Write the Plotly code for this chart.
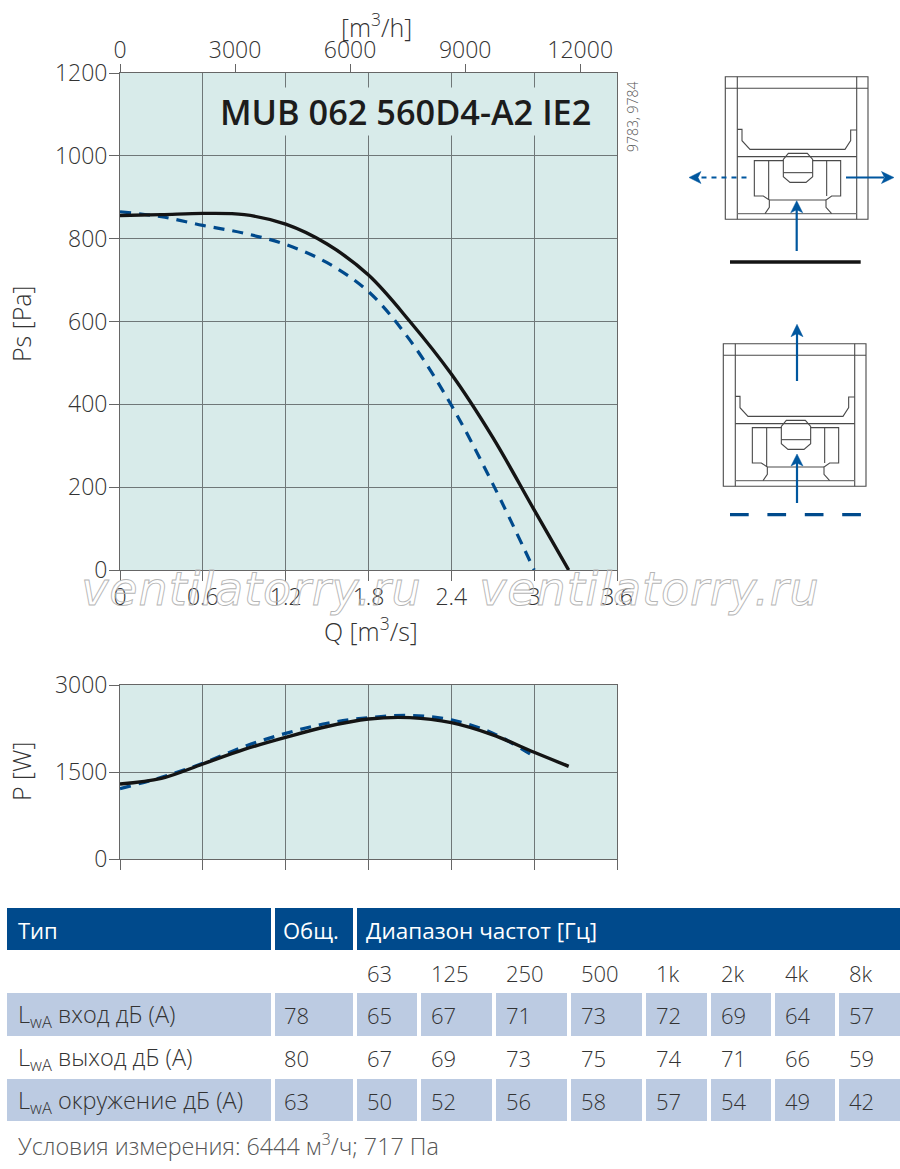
import plotly.graph_objects as go

W, H = 900, 1169
FONT = "Open Sans"

# curves
q_ps_solid = [0, 0.3, 0.6, 0.9, 1.2, 1.5, 1.8, 2.1, 2.4, 2.7, 3.0, 3.25]
ps_solid = [856, 858, 861, 858, 835, 787, 712, 600, 473, 320, 145, 0]
q_ps_dash = [0, 0.3, 0.6, 0.9, 1.2, 1.5, 1.8, 2.1, 2.4, 2.7, 3.0]
ps_dash = [865, 853, 832, 813, 786, 742, 672, 555, 398, 208, 0]

q_p_solid = [0, 0.3, 0.6, 0.9, 1.2, 1.5, 1.8, 2.1, 2.4, 2.7, 3.0, 3.25]
p_solid = [1293, 1390, 1638, 1890, 2098, 2285, 2414, 2437, 2350, 2140, 1840, 1598]
q_p_dash = [0, 0.3, 0.6, 0.9, 1.2, 1.5, 1.8, 2.1, 2.4, 2.7, 3.0]
p_dash = [1212, 1408, 1650, 1940, 2166, 2340, 2437, 2475, 2400, 2170, 1765]

# axes
q_ticks = [0, 0.6, 1.2, 1.8, 2.4, 3, 3.6]
flow_ticks = [0, 3000, 6000, 9000, 12000]
ps_ticks = [0, 200, 400, 600, 800, 1000, 1200]
p_ticks = [0, 1500, 3000]

# table
freq_labels = ["63", "125", "250", "500", "1k", "2k", "4k", "8k"]
row_names = ["L<sub>wA</sub> вход дБ (A)", "L<sub>wA</sub> выход дБ (A)", "L<sub>wA</sub> окружение дБ (A)"]
row_total = [78, 80, 63]
row_inlet = [65, 67, 71, 73, 72, 69, 64, 57]
row_outlet = [67, 69, 73, 75, 74, 71, 66, 59]
row_around = [50, 52, 56, 58, 57, 54, 49, 42]

col_edges = [(357, 417), (421, 492), (496, 567), (571, 642), (646, 707), (711, 771), (775, 835), (839, 900)]
band_rows = [(993, 1036), (1079, 1121)]


def fx(x):
    return x / W


def fy(y):
    return 1 - y / H


fig = go.Figure()

solid = dict(color="#141414", width=3.4, shape="spline", smoothing=1)
dashed = dict(color="#004a8c", width=3.2, dash="11px,8px", shape="spline", smoothing=1)

fig.add_trace(go.Scatter(x=q_ps_dash, y=ps_dash, mode="lines", line=dashed, xaxis="x", yaxis="y"))
fig.add_trace(go.Scatter(x=q_ps_solid, y=ps_solid, mode="lines", line=solid, xaxis="x", yaxis="y"))
fig.add_trace(go.Scatter(x=q_p_dash, y=p_dash, mode="lines", line=dashed, xaxis="x3", yaxis="y3"))
fig.add_trace(go.Scatter(x=q_p_solid, y=p_solid, mode="lines", line=solid, xaxis="x3", yaxis="y3"))
# keeps the top m3/h axis alive
fig.add_trace(go.Scatter(x=[q * 3600 for q in q_ps_solid], y=ps_solid, mode="lines", opacity=0,
                         hoverinfo="skip", xaxis="x2", yaxis="y"))

tick_font = dict(family=FONT, size=23, color="#333333", weight=300)
axis_base = dict(showline=True, linecolor="#666666", linewidth=1, mirror=True, ticks="outside",
                 tickcolor="#666666", tickwidth=1, tickfont=tick_font, zeroline=False,
                 gridcolor="#6f7778", gridwidth=1, showgrid=True, fixedrange=True)

fig.update_layout(
    width=W, height=H, margin=dict(l=0, r=0, t=0, b=0, autoexpand=False), showlegend=False,
    paper_bgcolor="white", plot_bgcolor="#d8ebea",
    xaxis=dict(axis_base, domain=[fx(120), fx(617)], range=[0, 3.6], tickmode="array", tickvals=q_ticks,
               ticktext=[str(t) for t in q_ticks], ticklen=10, ticklabelstandoff=-4, anchor="y"),
    yaxis=dict(axis_base, domain=[fy(570), fy(73)], range=[0, 1200], tickmode="array", tickvals=ps_ticks,
               ticklen=10, ticklabelstandoff=-3, anchor="x"),
    xaxis2=dict(axis_base, domain=[fx(120), fx(617)], range=[0, 12960], tickmode="array", tickvals=flow_ticks,
                ticktext=[str(t) for t in flow_ticks], ticklen=8, ticklabelstandoff=-3, side="top",
                overlaying="x", anchor="y", showgrid=False, mirror=False),
    xaxis3=dict(axis_base, domain=[fx(120), fx(617)], range=[0, 3.6], tickmode="array", tickvals=q_ticks,
                ticklen=10, showticklabels=False, anchor="y3"),
    yaxis3=dict(axis_base, domain=[fy(859), fy(685)], range=[0, 3000], tickmode="array", tickvals=p_ticks,
                ticklen=10, ticklabelstandoff=-3, anchor="x3"),
)


def label(text, x, y, size=22, color="#333333", anchor="left", weight=300, angle=0, family=FONT, style="normal", **kw):
    fig.add_annotation(text=text, x=fx(x), y=fy(y), xref="paper", yref="paper", showarrow=False,
                       xanchor=anchor, yanchor="middle", textangle=angle,
                       font=dict(family=family, size=size, color=color, weight=weight, style=style), **kw)


def rect(x0, y0, x1, y1, color):
    fig.add_shape(type="rect", xref="paper", yref="paper", x0=fx(x0), x1=fx(x1), y0=fy(y0), y1=fy(y1),
                  fillcolor=color, line_width=0, layer="below")


def path(points, color="#4a4a4a", width=1.1, close=False, fill=None, dash=None):
    d = "M" + " L".join(f"{fx(x):.5f},{fy(y):.5f}" for x, y in points) + (" Z" if close else "")
    fig.add_shape(type="path", xref="paper", yref="paper", path=d, fillcolor=fill,
                  line=dict(color=color, width=width, dash=dash))


# chart texts
label("MUB 062 560D4-A2 IE2", 405, 111, size=34.3, color="#1c1c1c", anchor="center", weight=600,
      bgcolor="#d8ebea", borderpad=0)
label("[m<sup>3</sup>/h]", 376, 25, size=25, anchor="center")
label("Q [m<sup>3</sup>/s]", 371, 629, size=25, anchor="center")
label("Ps [Pa]", 21, 324, size=25, anchor="center", angle=-90)
label("P [W]", 21, 772, size=25, anchor="center", angle=-90)
label("9783, 9784", 633, 117, size=14, color="#555555", anchor="center", angle=-90)

# watermark, outlined by the script at the bottom
label("ventilatorry.ru", 251, 589, size=46, color="#b5b5b5", anchor="center", weight=400,
      family="DejaVu Sans", style="italic")
label("ventilatorry.ru", 649, 589, size=46, color="#b5b5b5", anchor="center", weight=400,
      family="DejaVu Sans", style="italic")

# table header
HEAD = "#004a8c"
BAND = "#bccbe2"
rect(7, 908, 271, 950, HEAD)
rect(275, 908, 353, 950, HEAD)
rect(357, 908, 900, 950, HEAD)
label("Тип", 16, 930, size=22, color="white", weight=500)
label("Общ.", 281, 930, size=22, color="white", weight=500)
label("Диапазон частот [Гц]", 364, 930, size=22.5, color="white", weight=500)

# table body
for y0, y1 in band_rows:
    rect(7, y0, 271, y1, BAND)
    rect(275, y0, 353, y1, BAND)
    for x0, x1 in col_edges:
        rect(x0, y0, x1, y1, BAND)

for (x0, _), f in zip(col_edges, freq_labels):
    label(f, x0 + 8, 973, size=22)

for name, total, vals, y in zip(row_names, row_total, [row_inlet, row_outlet, row_around], [1015, 1058, 1101]):
    label(name, 16, y, size=23.5)
    label(str(total), 282, y, size=22)
    for (x0, _), v in zip(col_edges, vals):
        label(str(v), x0 + 8, y, size=22)

label("Условия измерения: 6444 м<sup>3</sup>/ч; 717 Па", 16, 1145, size=23.3, color="#555555")


# fan sketches, points taken in 3x units
def sketch(dx, dy):
    def p(pts):
        return [(720 + x / 3 + dx, 120 + y / 3 + dy) for x, y in pts]

    path([(725.3 + dx, 76.7 + dy), (868 + dx, 76.7 + dy), (868 + dx, 219.3 + dy), (725.3 + dx, 219.3 + dy)], close=True)
    path([(737.3 + dx, 76.7 + dy), (737.3 + dx, 219.3 + dy)])
    path([(856.7 + dx, 76.7 + dy), (856.7 + dx, 219.3 + dy)])
    path([(725.3 + dx, 88.3 + dy), (868 + dx, 88.3 + dy)])
    path(p([(52, 28), (66, 28), (66, 62), (90, 88), (375, 88), (392, 62), (392, 30), (410, 30)]))
    path(p([(52, 110), (410, 110)]))
    path(p([(52, 281), (410, 281)]), color="#777777", width=1.4)
    path(p([(190, 122), (103, 122), (103, 228), (130, 228), (148, 240), (148, 262), (135, 281)]))
    path(p([(278, 122), (362, 122), (362, 228), (335, 228), (318, 240), (318, 262), (335, 281)]))
    path(p([(146, 122), (146, 240)]))
    path(p([(320, 122), (320, 228)]))
    path(p([(148, 240), (318, 240)]))
    path(p([(205, 100), (262, 100), (278, 118), (278, 170), (258, 187), (210, 187), (190, 170), (190, 118)]), close=True)
    path(p([(190, 158), (278, 158)]))


BLUE = "#00579f"


def head(tip, base, half, vertical):
    # arrow head with a notched back
    if vertical:
        x, t = tip, base[0]
        b = base[1]
        notch = b + (t - b) * 0.25
        pts = [(x, t), (x + half, b), (x, notch), (x - half, b)]
    else:
        y, t = tip, base[0]
        b = base[1]
        notch = b + (t - b) * 0.25
        pts = [(t, y), (b, y + half), (notch, y), (b, y - half)]
    path(pts, color=BLUE, width=0.5, close=True, fill=BLUE)


sketch(0, 0)
path([(846, 177.5), (884, 177.5)], color=BLUE, width=2.2)
head(177.5, (894, 881.5), 6, False)
path([(746.5, 177.5), (698, 177.5)], color=BLUE, width=2.2, dash="5px,5px")
head(177.5, (689, 701), 6, False)
path([(796.7, 251), (796.7, 208)], color=BLUE, width=2.2)
head(796.7, (200.7, 212.7), 6, True)
path([(730, 262), (860.7, 262)], color="#141414", width=3.6)

sketch(-2, 267)
path([(797, 381), (797, 330)], color=BLUE, width=2.2)
head(797, (324.3, 336.7), 6, True)
path([(797, 503), (797, 460)], color=BLUE, width=2.2)
head(797, (454, 466), 6, True)
path([(730, 514.7), (861, 514.7)], color="#004a8c", width=3.2, dash="18.7px,18.7px")

post = """
document.body.style.margin = '0';
var gd = document.getElementById('{plot_id}');
function outline() {
  document.querySelectorAll('.annotation-text').forEach(function (t) {
    if (t.textContent.indexOf('ventilatorry') === 0) {
      t.style.setProperty('fill', 'none', 'important');
      t.style.setProperty('stroke', '#b5b5b5', 'important');
      t.style.strokeWidth = '0.9px';
      t.style.letterSpacing = '0.9px';
    }
  });
}
outline();
gd.on('plotly_afterplot', outline);
"""

fig.write_html("out.html", post_script=post, config=dict(displayModeBar=False))
